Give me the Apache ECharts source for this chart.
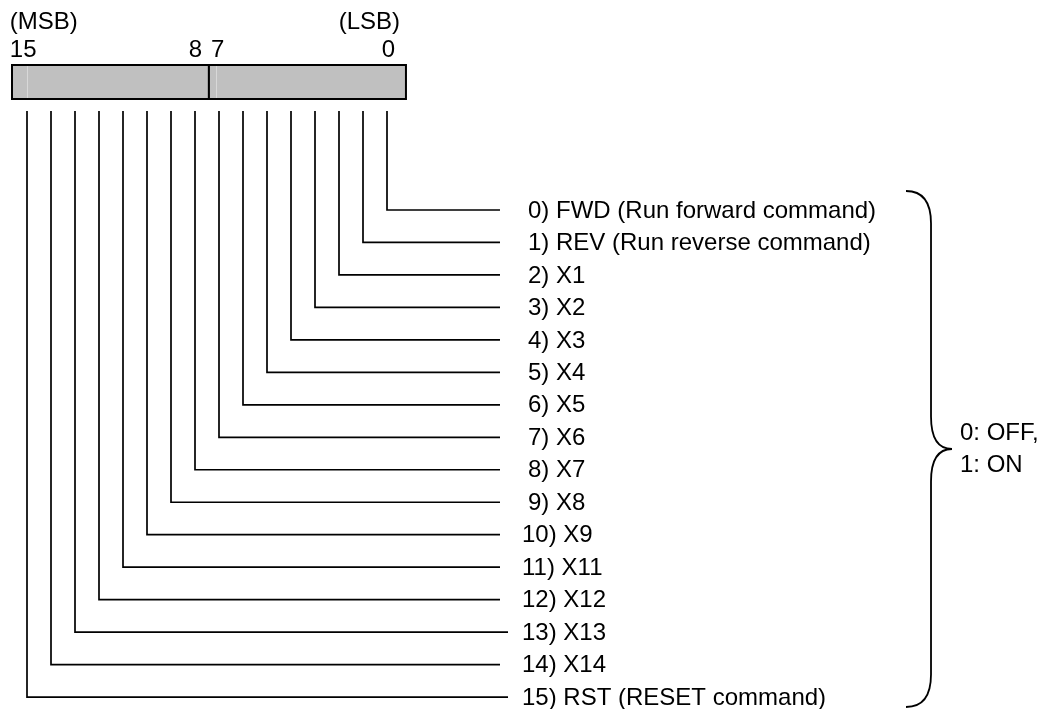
<!DOCTYPE html>
<html>
<head>
<meta charset="utf-8">
<script src="https://cdn.jsdelivr.net/npm/echarts@6/dist/echarts.min.js"></script>
<style>
  html, body { margin: 0; padding: 0; background: #ffffff; }
  #chart { width: 1049px; height: 709px; }
</style>
</head>
<body>
<div id="chart"></div>
<script>
// ---- data ----
const bitIndex = [0, 1, 2, 3, 4, 5, 6, 7, 8, 9, 10, 11, 12, 13, 14, 15];
const bitNames = ['FWD (Run forward command)', 'REV (Run reverse command)', 'X1', 'X2', 'X3', 'X4', 'X5', 'X6', 'X7', 'X8', 'X9', 'X11', 'X12', 'X13', 'X14', 'RST (RESET command)'];
const byteRanges = [[15, 8], [7, 0]];
const tickBits = [15, 8, 7, 0];
const endLabels = ['(MSB)', '(LSB)'];
const stateText = ['0: OFF,', '1: ON'];

// ---- layout (axis units: x = bit position, y = row) ----
const W = 1049, H = 709;
const PX_BIT = 24, PX_ROW = 32.47;
const X_MAX = 387 / PX_BIT, X_MIN = X_MAX - W / PX_BIT;
const Y_MIN = -210 / PX_ROW, Y_MAX = Y_MIN + H / PX_ROW;
const FONT = 24;
const FF = '"Liberation Sans", Arial, Helvetica, sans-serif';
const INK = '#000000';

const BOX_L = 15.625, BOX_R = -0.79, BOX_DIV = 7.42;
const BOX_T = -4.466, BOX_B = -3.4185;
const CONN_TOP = -3.049;
const LINE_END = -4.708, LINE_END_LONG = -5.042;
const LABEL_X = -5.875, LABEL_SHIFT2 = 6;
const LONG_LINES = [13, 15];

function txt(p, s, align, opts) {
  return Object.assign({
    type: 'text',
    x: p[0], y: p[1],
    style: {
      text: s, fill: INK, fontSize: FONT, fontFamily: FF,
      align: align, verticalAlign: 'middle',
      textAlign: align, textVerticalAlign: 'middle'
    }
  }, opts || {});
}

const chart = echarts.init(document.getElementById('chart'), null, { renderer: 'canvas' });

const option = {
  animation: false,
  backgroundColor: '#ffffff',
  grid: { left: 0, right: 0, top: 0, bottom: 0, containLabel: false },
  xAxis: { type: 'value', min: X_MIN, max: X_MAX, inverse: true, show: false },
  yAxis: { type: 'value', min: Y_MIN, max: Y_MAX, inverse: true, show: false },
  series: [
    {
      // register boxes
      type: 'custom', name: 'register', silent: true,
      data: byteRanges.map(r => [r[0], r[1]]),
      renderItem: function (params, api) {
        const i = params.dataIndex;
        const l = i === 0 ? BOX_L : BOX_DIV;
        const r = i === 0 ? BOX_DIV : BOX_R;
        const p0 = api.coord([l, BOX_T]);
        const p1 = api.coord([r, BOX_B]);
        const inner = api.coord([api.value(0) + (i === 0 ? 0 : 0.125), BOX_T]);
        return {
          type: 'group',
          children: [
            { type: 'rect', shape: { x: p0[0], y: p0[1], width: p1[0] - p0[0], height: p1[1] - p0[1] },
              style: { fill: '#c0c0c0', stroke: null } },
            { type: 'line', shape: { x1: Math.round(inner[0]) + 0.5, y1: p0[1], x2: Math.round(inner[0]) + 0.5, y2: p1[1] },
              style: { stroke: '#d8d8d8', lineWidth: 1 } },
            { type: 'rect', shape: { x: p0[0], y: p0[1], width: p1[0] - p0[0], height: p1[1] - p0[1] },
              style: { fill: null, stroke: INK, lineWidth: 2 } }
          ]
        };
      }
    },
    {
      // connectors
      type: 'custom', name: 'connectors', silent: true,
      data: bitIndex.map(b => [b, b]),
      renderItem: function (params, api) {
        const b = api.value(0);
        const end = LONG_LINES.indexOf(b) >= 0 ? LINE_END_LONG : LINE_END;
        const a = api.coord([b, CONN_TOP]);
        const c = api.coord([b, b]);
        const e = api.coord([end, b]);
        return {
          type: 'polyline',
          shape: { points: [a, c, e] },
          style: { stroke: INK, lineWidth: 1.7, fill: null, lineJoin: 'miter' }
        };
      }
    },
    {
      // bit labels
      type: 'custom', name: 'labels', silent: true,
      data: bitIndex.map(b => [LABEL_X, b]),
      renderItem: function (params, api) {
        const b = bitIndex[params.dataIndex];
        const p = api.coord([api.value(0), api.value(1)]);
        const x = b >= 10 ? p[0] - LABEL_SHIFT2 : p[0];
        return txt([x, p[1] + 1], b + ') ' + bitNames[params.dataIndex], 'left');
      }
    },
    {
      // top numbers and MSB/LSB
      type: 'custom', name: 'ticks', silent: true,
      data: tickBits.map(b => [b, -4.928]),
      renderItem: function (params, api) {
        const b = api.value(0);
        const p = api.coord([b, api.value(1)]);
        const children = [];
        let x = p[0], align = 'center';
        if (b === 15) { x = api.coord([BOX_L + 0.09, 0])[0]; align = 'left'; }
        else if (b === 8) { x = api.coord([7.708, 0])[0]; align = 'right'; }
        else if (b === 7) { x = api.coord([7.333, 0])[0]; align = 'left'; }
        else if (b === 0) { x = api.coord([-0.333, 0])[0]; align = 'right'; }
        children.push(txt([x, p[1]], String(b), align));
        if (b === 15) {
          const q = api.coord([BOX_L + 0.09, -5.79]);
          children.push(txt(q, endLabels[0], 'left'));
        }
        if (b === 0) {
          const q = api.coord([-0.542, -5.79]);
          children.push(txt(q, endLabels[1], 'right'));
        }
        return { type: 'group', children: children };
      }
    },
    {
      // brace + state text
      type: 'custom', name: 'brace', silent: true,
      data: [[bitIndex[0], bitIndex[bitIndex.length - 1]]],
      renderItem: function (params, api) {
        const top = api.value(0) - 0.585;
        const bot = api.value(1) + 0.306;
        const mid = 7.361;
        const xs = -21.625, xv = -22.667, xt = -23.542;
        const P = (x, y) => api.coord([x, y]);
        const a = P(xs, top), b = P(xv, top), c = P(xv, top + 1);
        const d = P(xv, mid - 1), m = P(xv, mid), t = P(xt, mid);
        const f = P(xv, mid + 1);
        const g = P(xv, bot - 1), h = P(xv, bot), k = P(xs, bot);
        const path = 'M' + a[0] + ',' + a[1] +
          ' Q' + b[0] + ',' + b[1] + ' ' + c[0] + ',' + c[1] +
          ' L' + d[0] + ',' + d[1] +
          ' Q' + m[0] + ',' + m[1] + ' ' + t[0] + ',' + t[1] +
          ' Q' + m[0] + ',' + m[1] + ' ' + f[0] + ',' + f[1] +
          ' L' + g[0] + ',' + g[1] +
          ' Q' + h[0] + ',' + h[1] + ' ' + k[0] + ',' + k[1];
        const s0 = P(-23.875, 6.868), s1 = P(-23.875, 7.853);
        return {
          type: 'group',
          children: [
            { type: 'path', shape: { pathData: path }, style: { stroke: INK, lineWidth: 1.8, fill: null } },
            txt(s0, stateText[0], 'left'),
            txt(s1, stateText[1], 'left')
          ]
        };
      }
    }
  ]
};

chart.setOption(option);
</script>
</body>
</html>
